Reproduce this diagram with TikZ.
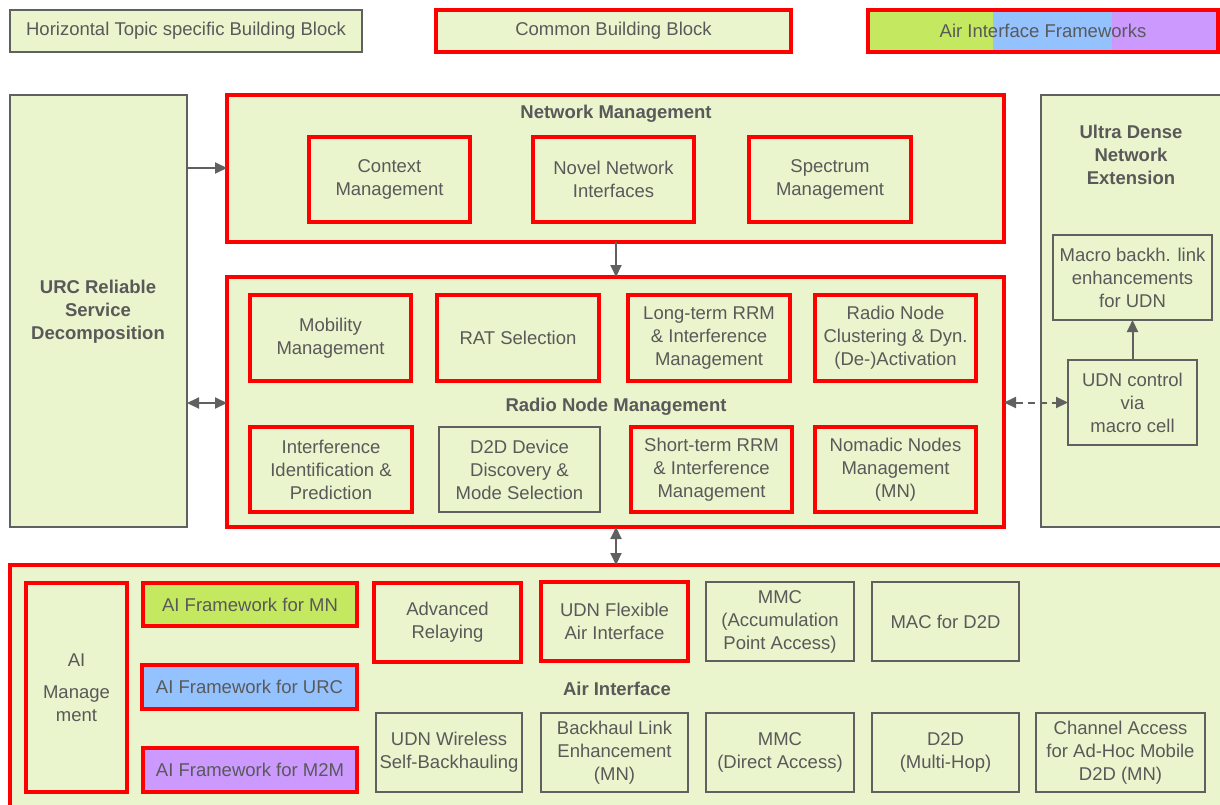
\documentclass[tikz,border=0pt]{standalone}
\usepackage{fontspec}
\setmainfont{Liberation Sans}
\usetikzlibrary{arrows.meta}
\definecolor{bgg}{HTML}{EAF5CD}
\definecolor{txt}{HTML}{595959}
\definecolor{lnk}{HTML}{606060}
\definecolor{fgreen}{HTML}{C4E860}
\definecolor{fblue}{HTML}{94C2FF}
\definecolor{fpurple}{HTML}{CC99FF}
\definecolor{rd}{HTML}{FF0000}
\tikzset{
  base/.style={anchor=north west, inner sep=0pt, outer sep=0pt, align=center, text=txt,
    font=\fontsize{18.5}{23}\selectfont},
  graybox/.style={base, draw=lnk, line width=1.5pt, fill=bgg},
  redbox/.style={base, draw=rd, line width=3.5pt, fill=bgg},
  ttl/.style={text=txt, align=center, font=\fontsize{18.5}{23}\selectfont\bfseries, inner sep=0pt},
  arr/.style={draw=lnk, line width=2pt, -{Triangle[length=12pt,width=11pt]}},
  darr/.style={draw=lnk, line width=2pt, {Triangle[length=12pt,width=11pt]}-{Triangle[length=12pt,width=11pt]}},
  wh/.style 2 args={minimum width=#1pt, minimum height=#2pt},
}
\begin{document}
\begin{tikzpicture}[x=1pt,y=-1pt]
\useasboundingbox (0,0) rectangle (1220,805);
% legend
\node[graybox, wh={352}{42}] (leg1) at (10,10) {Horizontal Topic specific Building Block};
\node[redbox, wh={355}{42}] (leg2) at (436,10) {Common Building Block};
\fill[fgreen] (868,10) rectangle (993,52);
\fill[fblue] (993,10) rectangle (1112,52);
\fill[fpurple] (1112,10) rectangle (1218,52);
\node[base, draw=rd, line width=3.5pt, wh={350}{42}] (leg3) at (868,10) {Air Interface Frameworks};
% URC
\node[graybox, wh={177}{432}] (urc) at (10,95) {};
\node[ttl] (urct) at (98,312) {URC Reliable\\Service\\Decomposition};
% Network management
\node[redbox, wh={777}{147}] (nm) at (227,95) {};
\node[ttl] (nmt) at (616,114) {Network Management};
\node[redbox, wh={161}{85}] (ctx) at (309,137) {Context\\Management};
\node[redbox, wh={161}{85}] (nni) at (533,137) {Novel Network\\Interfaces};
\node[redbox, wh={162}{85}] (spec) at (749,137) {Spectrum\\Management};
% Radio node management
\node[redbox, wh={777}{250}] (rnm) at (227,277) {};
\node[ttl] (rnmt) at (616,407) {Radio Node Management};
\node[redbox, wh={161}{86}] (mob) at (250,295) {Mobility\\Management};
\node[redbox, wh={162}{86}] (rat) at (437,295) {RAT Selection};
\node[redbox, wh={162}{86}] (ltr) at (628,295) {Long-term RRM\\\& Interference\\Management};
\node[redbox, wh={161}{86}] (rnc) at (815,295) {Radio Node\\Clustering \& Dyn.\\(De-)Activation};
\node[redbox, wh={162}{85}] (iip) at (250,427) {Interference\\Identification \&\\Prediction};
\node[graybox, wh={161}{85}] (d2dd) at (439,427) {D2D Device\\Discovery \&\\Mode Selection};
\node[redbox, wh={161}{85}] (strr) at (631,427) {Short-term RRM\\\& Interference\\Management};
\node[redbox, wh={161}{85}] (nn) at (815,427) {Nomadic Nodes\\Management\\(MN)};
% UDN
\node[graybox, wh={190}{432}] (udn) at (1041,95) {};
\node[ttl] (udnt) at (1131,155) {Ultra Dense\\Network\\Extension};
\node[graybox, wh={159}{85}] (mbl) at (1053,235) {Macro backh. link\\enhancements\\for UDN};
\node[graybox, wh={129}{85}] (udnc) at (1068,360) {UDN control\\via\\macro cell};
% Air interface
\node[redbox, wh={1220}{260}] (air) at (10,565) {};
\node[ttl] (airt) at (617,689) {Air Interface};
\node[redbox, wh={101}{209}] (aim) at (26,583) {AI\\[9pt]Manage\\ment};
\node[redbox, fill=fgreen, wh={214}{43}] (fmn) at (143,583) {AI Framework for MN};
\node[redbox, fill=fblue, wh={215}{44}] (furc) at (142,665) {AI Framework for URC};
\node[redbox, fill=fpurple, wh={214}{44}] (fm2m) at (143,748) {AI Framework for M2M};
\node[redbox, wh={147}{79}] (adv) at (374,583) {Advanced\\Relaying};
\node[redbox, wh={147}{79}] (udnf) at (541,582) {UDN Flexible\\Air Interface};
\node[graybox, wh={148}{79}] (mmc1) at (706,582) {MMC\\(Accumulation\\Point Access)};
\node[graybox, wh={147}{79}] (mac) at (872,582) {MAC for D2D};
\node[graybox, wh={146}{79}] (udnw) at (376,713) {UDN Wireless\\Self-Backhauling};
\node[graybox, wh={147}{79}] (bhl) at (541,713) {Backhaul Link\\Enhancement\\(MN)};
\node[graybox, wh={148}{79}] (mmc2) at (706,713) {MMC\\(Direct Access)};
\node[graybox, wh={147}{79}] (d2dm) at (872,713) {D2D\\(Multi-Hop)};
\node[graybox, wh={169}{79}] (chan) at (1036,713) {Channel Access\\for Ad-Hoc Mobile\\D2D (MN)};
% connectors
\draw[arr] (urc.east |- 0,168) -- (nm.west |- 0,168);
\draw[darr] (urc.east |- 0,403) -- (rnm.west |- 0,403);
\draw[arr] (nm.south -| 616,0) -- (rnm.north -| 616,0);
\draw[darr] (rnm.south -| 616,0) -- (air.north -| 616,0);
\draw[darr, dashed, dash pattern=on 7pt off 5pt] (rnm.east |- udnc.west) -- (udnc.west);
\draw[arr] (udnc.north) -- (udnc.north |- mbl.south);
\end{tikzpicture}
\end{document}
